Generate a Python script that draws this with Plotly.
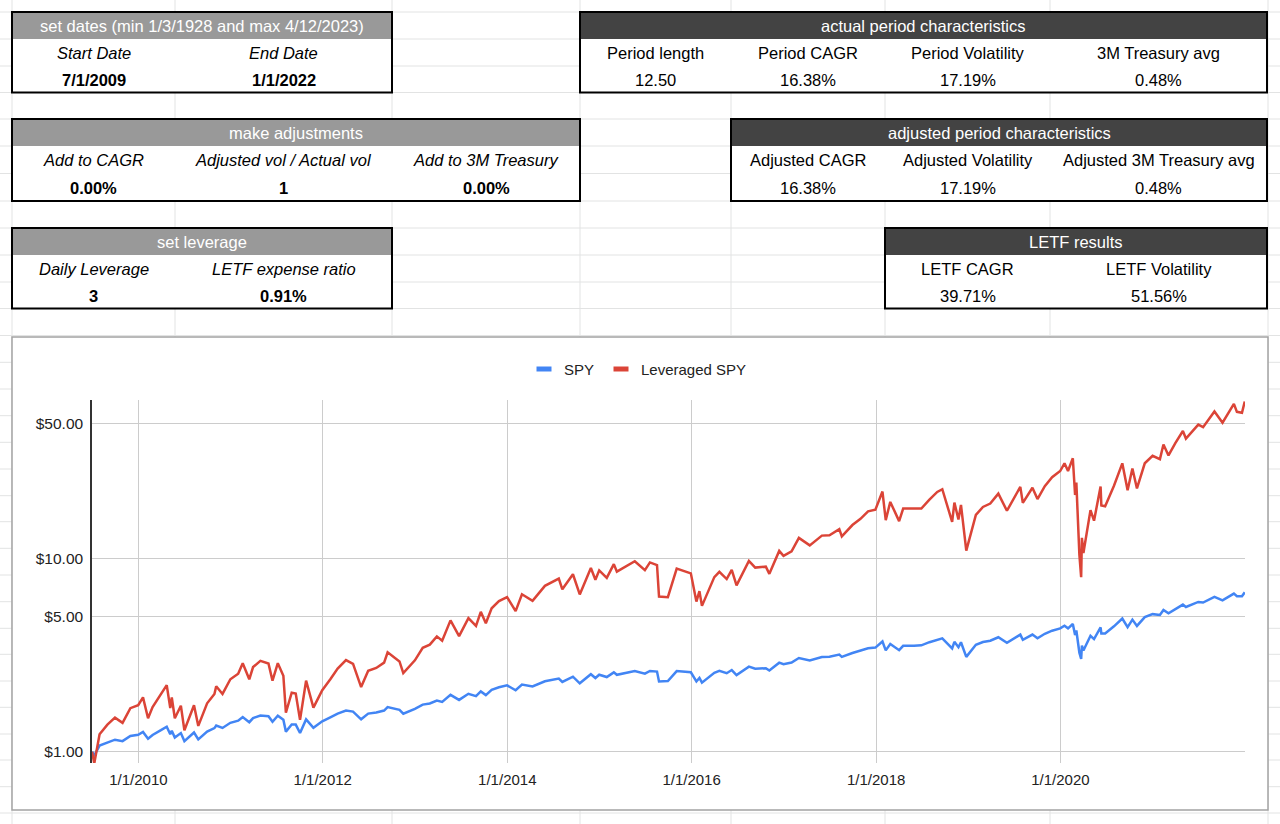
import plotly.graph_objects as go

W, H = 1280, 824

# ---------------- chart data ----------------
dates = [
    "2009-07-01", "2009-07-10", "2009-07-31", "2009-08-31", "2009-09-30", "2009-10-30", "2009-11-30", "2009-12-31",
    "2010-01-19", "2010-02-08", "2010-02-26", "2010-03-31", "2010-04-23", "2010-05-07", "2010-05-13", "2010-05-25",
    "2010-06-18", "2010-07-02", "2010-08-09", "2010-08-26", "2010-09-30", "2010-10-29", "2010-11-05", "2010-11-30",
    "2010-12-31", "2011-01-31", "2011-02-18", "2011-03-16", "2011-03-31", "2011-04-29", "2011-05-31", "2011-06-16",
    "2011-07-07", "2011-07-29", "2011-08-08", "2011-08-31", "2011-09-16", "2011-10-03", "2011-10-27", "2011-11-25",
    "2011-12-30", "2012-01-31", "2012-02-29", "2012-04-02", "2012-04-30", "2012-06-01", "2012-06-29", "2012-07-31",
    "2012-08-31", "2012-09-14", "2012-10-31", "2012-11-15", "2012-12-31", "2013-01-31", "2013-02-28", "2013-03-28",
    "2013-04-18", "2013-05-21", "2013-06-24", "2013-07-31", "2013-08-30", "2013-09-18", "2013-10-08", "2013-10-31",
    "2013-11-29", "2013-12-31", "2014-02-03", "2014-02-28", "2014-04-11", "2014-05-30", "2014-06-30", "2014-07-24",
    "2014-08-07", "2014-09-18", "2014-10-15", "2014-11-28", "2014-12-16", "2014-12-31", "2015-01-30", "2015-02-27",
    "2015-03-11", "2015-05-21", "2015-06-30", "2015-07-20", "2015-08-17", "2015-08-25", "2015-09-29", "2015-11-03",
    "2015-12-29", "2016-01-20", "2016-02-01", "2016-02-11", "2016-03-31", "2016-04-20", "2016-05-19", "2016-06-08",
    "2016-06-27", "2016-08-15", "2016-09-09", "2016-10-21", "2016-11-04", "2016-12-13", "2016-12-30", "2017-01-31",
    "2017-03-01", "2017-04-13", "2017-05-31", "2017-06-30", "2017-08-08", "2017-08-18", "2017-09-29", "2017-10-31",
    "2017-11-30", "2017-12-29", "2018-01-26", "2018-02-08", "2018-02-26", "2018-04-02", "2018-04-18", "2018-05-31",
    "2018-06-29", "2018-07-31", "2018-08-31", "2018-09-20", "2018-10-29", "2018-11-07", "2018-11-23", "2018-12-03",
    "2018-12-24", "2019-01-31", "2019-02-28", "2019-03-29", "2019-04-30", "2019-06-03", "2019-07-26", "2019-08-05",
    "2019-09-12", "2019-10-02", "2019-10-31", "2019-11-29", "2019-12-31", "2020-01-17", "2020-01-31", "2020-02-19",
    "2020-02-28", "2020-03-04", "2020-03-16", "2020-03-23", "2020-03-26", "2020-04-01", "2020-04-29", "2020-05-13",
    "2020-06-08", "2020-06-11", "2020-06-26", "2020-07-31", "2020-09-02", "2020-09-23", "2020-10-12", "2020-10-30",
    "2020-11-30", "2020-12-31", "2021-01-29", "2021-02-12", "2021-03-04", "2021-03-31", "2021-04-30", "2021-05-12",
    "2021-06-30", "2021-07-19", "2021-09-02", "2021-10-04", "2021-11-18", "2021-11-30", "2021-12-20", "2021-12-31",
]

spy = [
    1.000, 0.956, 1.076, 1.119, 1.154, 1.134, 1.206, 1.224,
    1.265, 1.167, 1.221, 1.292, 1.347, 1.232, 1.284, 1.184,
    1.248, 1.135, 1.257, 1.158, 1.272, 1.324, 1.365, 1.327,
    1.411, 1.446, 1.511, 1.421, 1.493, 1.539, 1.525, 1.429,
    1.534, 1.462, 1.270, 1.383, 1.381, 1.250, 1.469, 1.330,
    1.437, 1.506, 1.573, 1.631, 1.612, 1.471, 1.574, 1.595,
    1.632, 1.702, 1.646, 1.573, 1.664, 1.752, 1.777, 1.840,
    1.811, 1.969, 1.853, 1.994, 1.938, 2.051, 1.963, 2.087,
    2.153, 2.203, 2.079, 2.227, 2.174, 2.314, 2.358, 2.391,
    2.294, 2.443, 2.258, 2.516, 2.406, 2.502, 2.433, 2.573,
    2.499, 2.617, 2.532, 2.616, 2.597, 2.310, 2.319, 2.612,
    2.575, 2.309, 2.409, 2.276, 2.560, 2.618, 2.547, 2.646,
    2.493, 2.754, 2.687, 2.702, 2.630, 2.888, 2.835, 2.891,
    3.052, 2.967, 3.089, 3.099, 3.178, 3.092, 3.239, 3.322,
    3.428, 3.456, 3.717, 3.343, 3.603, 3.352, 3.529, 3.535,
    3.549, 3.686, 3.810, 3.858, 3.424, 3.702, 3.472, 3.685,
    3.095, 3.574, 3.694, 3.751, 3.910, 3.659, 4.035, 3.794,
    4.036, 3.862, 4.073, 4.227, 4.342, 4.481, 4.346, 4.576,
    4.010, 4.235, 3.249, 3.021, 3.540, 3.338, 3.980, 3.826,
    4.396, 4.089, 4.086, 4.454, 4.887, 4.412, 4.824, 4.474,
    4.970, 5.148, 5.100, 5.412, 5.196, 5.471, 5.765, 5.603,
    5.955, 5.911, 6.321, 6.064, 6.571, 6.377, 6.372, 6.675,
]

leveraged_spy = [
    1.00, 0.87, 1.23, 1.38, 1.50, 1.41, 1.68, 1.74,
    1.91, 1.49, 1.70, 1.98, 2.21, 1.68, 1.91, 1.49,
    1.73, 1.29, 1.74, 1.36, 1.78, 1.99, 2.18, 1.99,
    2.37, 2.53, 2.87, 2.37, 2.74, 2.95, 2.86, 2.33,
    2.87, 2.47, 1.59, 2.02, 2.00, 1.46, 2.33, 1.69,
    2.08, 2.37, 2.69, 2.98, 2.85, 2.16, 2.62, 2.71,
    2.89, 3.27, 2.93, 2.55, 2.97, 3.45, 3.58, 3.95,
    3.75, 4.78, 3.96, 4.91, 4.47, 5.29, 4.62, 5.52,
    6.01, 6.31, 5.34, 6.52, 6.03, 7.21, 7.58, 7.86,
    6.92, 8.28, 6.51, 8.92, 7.75, 8.67, 7.93, 9.34,
    8.54, 9.67, 8.69, 9.53, 9.24, 6.35, 6.30, 8.86,
    8.37, 5.98, 6.77, 5.68, 8.00, 8.52, 7.82, 8.73,
    7.25, 9.70, 8.96, 9.06, 8.32, 10.93, 10.30, 10.87,
    12.77, 11.68, 13.12, 13.18, 14.16, 13.00, 14.88, 16.02,
    17.53, 17.87, 22.18, 15.77, 19.60, 15.59, 18.10, 18.03,
    18.10, 20.13, 22.07, 22.80, 15.45, 19.43, 15.91, 18.92,
    10.97, 16.80, 18.45, 19.21, 21.64, 17.64, 23.45, 19.38,
    23.21, 20.28, 23.65, 26.29, 28.32, 31.04, 28.32, 32.97,
    21.28, 24.69, 10.46, 8.00, 12.77, 10.67, 17.78, 15.68,
    23.53, 18.80, 18.62, 23.76, 31.04, 22.50, 29.19, 23.01,
    31.06, 33.97, 32.62, 38.84, 34.09, 39.45, 45.61, 41.69,
    49.21, 47.72, 57.58, 50.38, 62.99, 57.31, 56.66, 64.83,
]

series_names = ["SPY", "Leveraged SPY"]
series_colors = ["#4285F4", "#DB4437"]

x_tick_vals = ["2010-01-01", "2012-01-01", "2014-01-01", "2016-01-01", "2018-01-01", "2020-01-01"]
x_tick_text = ["1/1/2010", "1/1/2012", "1/1/2014", "1/1/2016", "1/1/2018", "1/1/2020"]
y_tick_vals = [1, 5, 10, 50]
y_tick_text = ["$1.00", "$5.00", "$10.00", "$50.00"]

# ---------------- table content ----------------
t_dates_title = "set dates (min 1/3/1928 and max 4/12/2023)"
t_dates_labels = ["Start Date", "End Date"]
t_dates_values = ["7/1/2009", "1/1/2022"]

t_actual_title = "actual period characteristics"
t_actual_labels = ["Period length", "Period CAGR", "Period Volatility", "3M Treasury avg"]
t_actual_values = ["12.50", "16.38%", "17.19%", "0.48%"]

t_adj_title = "make adjustments"
t_adj_labels = ["Add to CAGR", "Adjusted vol / Actual vol", "Add to 3M Treasury"]
t_adj_values = ["0.00%", "1", "0.00%"]

t_adjchar_title = "adjusted period characteristics"
t_adjchar_labels = ["Adjusted CAGR", "Adjusted Volatility", "Adjusted 3M Treasury avg"]
t_adjchar_values = ["16.38%", "17.19%", "0.48%"]

t_lev_title = "set leverage"
t_lev_labels = ["Daily Leverage", "LETF expense ratio"]
t_lev_values = ["3", "0.91%"]

t_res_title = "LETF results"
t_res_labels = ["LETF CAGR", "LETF Volatility"]
t_res_values = ["39.71%", "51.56%"]

# ---------------- layout geometry (pixels) ----------------
FONT = "Liberation Sans, Arimo, Arial, sans-serif"
col_lines = [12, 175, 392, 580, 731, 885, 1050, 1268]
row_lines = [12, 39, 66, 92.5, 119, 146, 173.5, 201, 228, 255, 282, 308.5, 335.5,
             362.3, 389, 415.7, 442.3, 469, 495.7, 521.7, 548.3, 575, 601.7, 628.3,
             654.3, 681, 707.3, 734, 760, 786.7, 813]
GRID_COLOR = "#e2e3e3"
LIGHT_HEAD = "#999999"
DARK_HEAD = "#434343"


def px(x):
    return x / W


def py(y):
    return 1 - y / H


shapes = []
annotations = []

for x in col_lines:
    shapes.append(dict(type="line", xref="paper", yref="paper", x0=px(x), x1=px(x), y0=0, y1=1,
                       line=dict(color=GRID_COLOR, width=1), layer="below"))
for y in row_lines:
    shapes.append(dict(type="line", xref="paper", yref="paper", x0=0, x1=1, y0=py(y), y1=py(y),
                       line=dict(color=GRID_COLOR, width=1), layer="below"))


def rect(x0, y0, x1, y1, fill=None, line_color=None, line_width=0):
    d = dict(type="rect", xref="paper", yref="paper", x0=px(x0), x1=px(x1), y0=py(y1), y1=py(y0),
             layer="below", line=dict(width=line_width, color=line_color or "rgba(0,0,0,0)"))
    d["fillcolor"] = fill if fill else "rgba(0,0,0,0)"
    return d


def text(x, y, s, color="#000000", size=16.5):
    annotations.append(dict(xref="paper", yref="paper", x=px(x), y=py(y), text=s, showarrow=False,
                            xanchor="center", yanchor="middle",
                            font=dict(family=FONT, size=size, color=color)))


def add_table(x_edges, y_rows, title, labels, values, head_fill, italic_labels, bold_values):
    x0, x1 = x_edges[0], x_edges[-1]
    y0, yh, ym, y1 = y_rows
    shapes.append(rect(x0, y0, x1, y1, fill="#ffffff"))
    shapes.append(rect(x0, y0, x1, yh, fill=head_fill))
    shapes.append(rect(x0, y0, x1, y1, line_color="#000000", line_width=2))
    text((x0 + x1) / 2, (y0 + yh) / 2 + 0.5, title, color="#ffffff")
    for i, (lab, val) in enumerate(zip(labels, values)):
        cx = (x_edges[i] + x_edges[i + 1]) / 2
        text(cx, (yh + ym) / 2 + 0.5, f"<i>{lab}</i>" if italic_labels else lab)
        text(cx, (ym + y1) / 2 + 0.5, f"<b>{val}</b>" if bold_values else val)


add_table([12, 175, 392], [12, 39, 66, 92.5], t_dates_title, t_dates_labels, t_dates_values,
          LIGHT_HEAD, True, True)
add_table([580, 731, 885, 1050, 1267], [12, 39, 66, 92.5], t_actual_title, t_actual_labels,
          t_actual_values, DARK_HEAD, False, False)
add_table([12, 175, 392, 580], [119, 146, 173.5, 201], t_adj_title, t_adj_labels, t_adj_values,
          LIGHT_HEAD, True, True)
add_table([731, 885, 1050, 1267], [119, 146, 173.5, 201], t_adjchar_title, t_adjchar_labels,
          t_adjchar_values, DARK_HEAD, False, False)
add_table([12, 175, 392], [228, 255, 282, 308.5], t_lev_title, t_lev_labels, t_lev_values,
          LIGHT_HEAD, True, True)
add_table([885, 1050, 1267], [228, 255, 282, 308.5], t_res_title, t_res_labels, t_res_values,
          DARK_HEAD, False, False)

# chart frame
shapes.append(rect(12, 337, 1268, 810, fill="#ffffff", line_color="#a3a3a3", line_width=1.5))

# custom legend
legend_items = [(536.5, 561.5), (613.5, 638.5)]
for (sx, tx), name, col in zip(legend_items, series_names, series_colors):
    shapes.append(dict(type="rect", xref="paper", yref="paper", x0=px(sx), x1=px(sx + 15),
                       y0=py(371.5), y1=py(366.5), fillcolor=col, line=dict(width=0), layer="above"))
    annotations.append(dict(xref="paper", yref="paper", x=px(tx), y=py(369), text=name,
                            showarrow=False, xanchor="left", yanchor="middle",
                            font=dict(family=FONT, size=15, color="#222222")))

fig = go.Figure()
for name, vals, col in zip(series_names, [spy, leveraged_spy], series_colors):
    fig.add_trace(go.Scatter(x=dates, y=vals, mode="lines", name=name,
                             line=dict(color=col, width=2.5), hoverinfo="skip"))

fig.update_layout(
    width=W, height=H, margin=dict(l=0, r=0, t=0, b=0), autosize=False,
    paper_bgcolor="#ffffff", plot_bgcolor="rgba(0,0,0,0)",
    showlegend=False, shapes=shapes, annotations=annotations,
    font=dict(family=FONT, size=15, color="#222222"),
    xaxis=dict(type="date", domain=[px(92), px(1245)], range=["2009-07-01", "2022-01-01"],
               tickvals=x_tick_vals, ticktext=x_tick_text, showgrid=True, gridcolor="#cccccc",
               gridwidth=1, zeroline=False, showline=False, ticks="", ticklabelstandoff=6,
               tickfont=dict(family=FONT, size=15, color="#222222")),
    yaxis=dict(type="log", domain=[py(763), py(400)], range=[-0.0585, 1.8195],
               tickvals=y_tick_vals, ticktext=y_tick_text, showgrid=True, gridcolor="#cccccc",
               gridwidth=1, zeroline=False, showline=True, linecolor="#333333", linewidth=1.5,
               ticks="", ticklabelstandoff=4,
               tickfont=dict(family=FONT, size=15.5, color="#222222")),
)

fig.write_html("out.html", config={"displayModeBar": False},
               post_script="document.body.style.margin='0';document.body.style.overflow='hidden';")
